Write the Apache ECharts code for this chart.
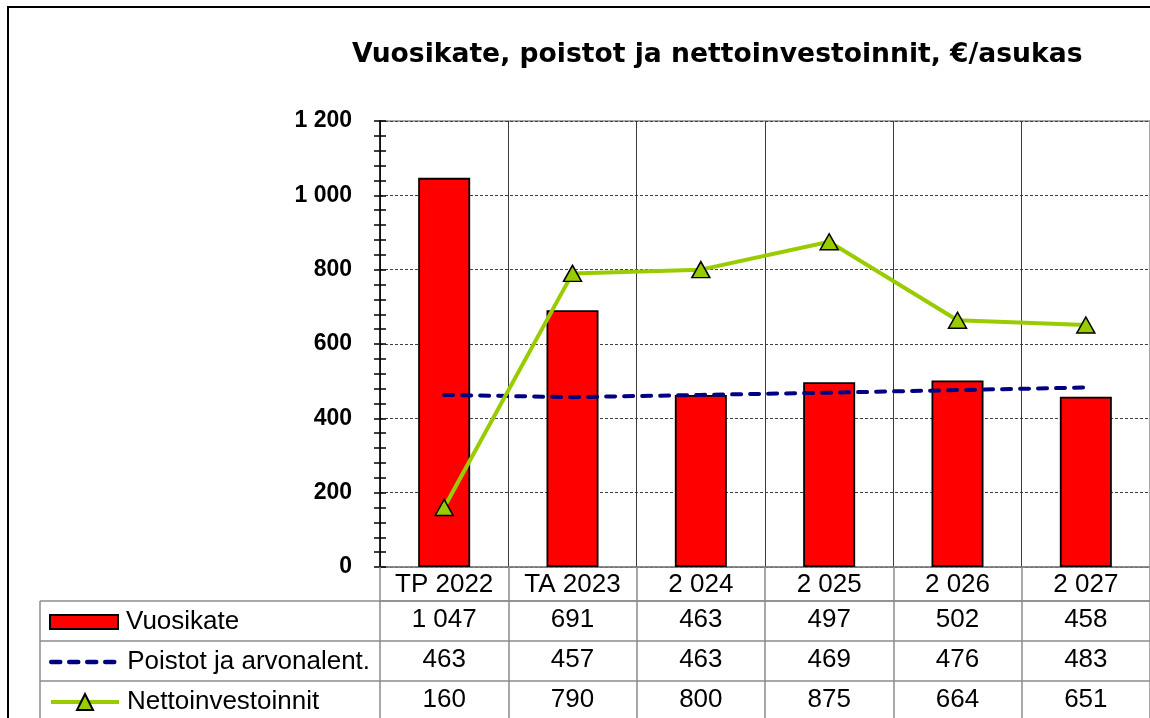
<!DOCTYPE html>
<html>
<head>
<meta charset="utf-8">
<script src="https://cdn.jsdelivr.net/npm/echarts@6/dist/echarts.min.js"></script>
<style>
html,body{margin:0;padding:0;background:#fff;}
#main{width:1150px;height:718px;}
</style>
</head>
<body>
<div id="main"></div>
<script>
var titleText = 'Vuosikate, poistot ja nettoinvestoinnit, €/asukas';
var categories = ['TP 2022', 'TA 2023', '2 024', '2 025', '2 026', '2 027'];
var seriesNames = ['Vuosikate', 'Poistot ja arvonalent.', 'Nettoinvestoinnit'];
var vuosikate = [1047, 691, 463, 497, 502, 458];
var poistot = [463, 457, 463, 469, 476, 483];
var netto = [160, 790, 800, 875, 664, 651];
var yTicks = [0, 200, 400, 600, 800, 1000, 1200];

var FONT = "'Liberation Sans', Arial, sans-serif";
function fmt(v) {
  return String(v).replace(/\B(?=(\d{3})+(?!\d))/g, ' ');
}
var tableColor = '#8c8c8c';

function rowAxis(values, offset, margin) {
  return {
    type: 'category',
    gridIndex: 0,
    position: 'bottom',
    offset: offset,
    data: categories,
    axisLine: {show: true, onZero: false, lineStyle: {color: tableColor, width: 1.5}},
    axisTick: {show: false},
    splitLine: {show: false},
    axisLabel: {
      interval: 0, margin: margin, fontFamily: FONT, fontSize: 26, color: '#000',
      formatter: function (v, i) { return fmt(values[i]); }
    }
  };
}

function legendCfg(name, top, icon, ih, extra) {
  var c = {
    data: [icon ? {name: name, icon: icon} : name],
    left: 49, top: top, padding: 0, itemWidth: 68, itemHeight: ih, itemGap: 0,
    textStyle: {fontFamily: FONT, fontSize: 26, color: '#000', padding: [0, 0, 0, 3]}
  };
  for (var k in extra) c[k] = extra[k];
  return c;
}

var chart = echarts.init(document.getElementById('main'), null, {renderer: 'canvas'});
var option = {
  backgroundColor: '#ffffff',
  animation: false,
  title: {
    text: titleText,
    left: 347, top: 37,
    textStyle: {fontFamily: "'DejaVu Sans', sans-serif", fontSize: 26.6, fontWeight: 'bold', color: '#000'}
  },
  grid: {
    left: 380, width: 775, top: 121, height: 446,
    show: true, borderColor: '#8c8c8c', borderWidth: 1.5, backgroundColor: 'transparent'
  },
  legend: [
    legendCfg(seriesNames[0], 609, 'rect', 14, {}),
    legendCfg(seriesNames[1], 649, null, 14, {itemStyle: {opacity: 0}, lineStyle: {width: 4.5}}),
    legendCfg(seriesNames[2], 689, null, 20, {lineStyle: {width: 4}})
  ],
  xAxis: [
    {
      type: 'category',
      data: categories,
      position: 'bottom',
      boundaryGap: true,
      axisLine: {show: true, onZero: false, lineStyle: {color: '#808080', width: 1.5}},
      axisTick: {show: true, interval: 0, length: 170, lineStyle: {color: tableColor, width: 1.5}},
      splitLine: {show: true, interval: 0, lineStyle: {color: '#3a3a3a', width: 1}},
      axisLabel: {interval: 0, margin: 5, fontFamily: FONT, fontSize: 26, color: '#000'}
    },
    rowAxis(vuosikate, 34, 6),
    rowAxis(poistot, 74, 6),
    rowAxis(netto, 114, 6)
  ],
  yAxis: [
    {
      type: 'value', min: yTicks[0], max: yTicks[yTicks.length - 1], interval: 200,
      axisLine: {show: true, lineStyle: {color: '#000', width: 1.5}},
      axisTick: {show: true, length: 6, lineStyle: {color: '#000', width: 1.5}},
      minorTick: {show: true, splitNumber: 5, length: 6, lineStyle: {color: '#000', width: 1.5}},
      splitLine: {show: true, lineStyle: {color: '#404040', width: 1, type: [3, 2]}},
      axisLabel: {
        margin: 28, fontFamily: FONT, fontSize: 23, fontWeight: 'bold', color: '#000',
        formatter: function (v) { return fmt(v); }
      }
    },
    {
      type: 'value', min: yTicks[0], max: yTicks[yTicks.length - 1], interval: 200, position: 'left',
      axisLine: {show: false},
      axisTick: {show: true, inside: true, length: 6, lineStyle: {color: '#000', width: 1.5}},
      minorTick: {show: true, splitNumber: 5, length: 6, lineStyle: {color: '#000', width: 1.5}},
      splitLine: {show: false},
      axisLabel: {show: false}
    }
  ],
  series: [
    {
      name: seriesNames[0], type: 'bar', data: vuosikate, barWidth: 52,
      itemStyle: {color: '#ff0000', borderColor: '#000', borderWidth: 1.8}, z: 2
    },
    {
      name: seriesNames[1], type: 'line', data: poistot, symbol: 'none', z: 3,
      lineStyle: {color: '#000080', width: 4, type: [9, 9], cap: 'round'},
      itemStyle: {color: '#000080'}
    },
    {
      name: seriesNames[2], type: 'line', data: netto, symbol: 'triangle', symbolSize: [18, 16], z: 4,
      lineStyle: {color: '#99cc00', width: 4},
      itemStyle: {color: '#99cc00', borderColor: '#000', borderWidth: 1.5}
    }
  ],
  graphic: [
    {type: 'rect', shape: {x: 8, y: 7, width: 1200, height: 800}, style: {fill: 'none', stroke: '#000', lineWidth: 2}, z: 100},
    {type: 'line', shape: {x1: 40, y1: 601, x2: 1150, y2: 601}, style: {stroke: tableColor, lineWidth: 1.5}},
    {type: 'line', shape: {x1: 40, y1: 641, x2: 380, y2: 641}, style: {stroke: tableColor, lineWidth: 1.5}},
    {type: 'line', shape: {x1: 40, y1: 681, x2: 380, y2: 681}, style: {stroke: tableColor, lineWidth: 1.5}},
    {type: 'line', shape: {x1: 40, y1: 601, x2: 40, y2: 730}, style: {stroke: tableColor, lineWidth: 1.5}}
  ]
};
chart.setOption(option);
</script>
</body>
</html>
